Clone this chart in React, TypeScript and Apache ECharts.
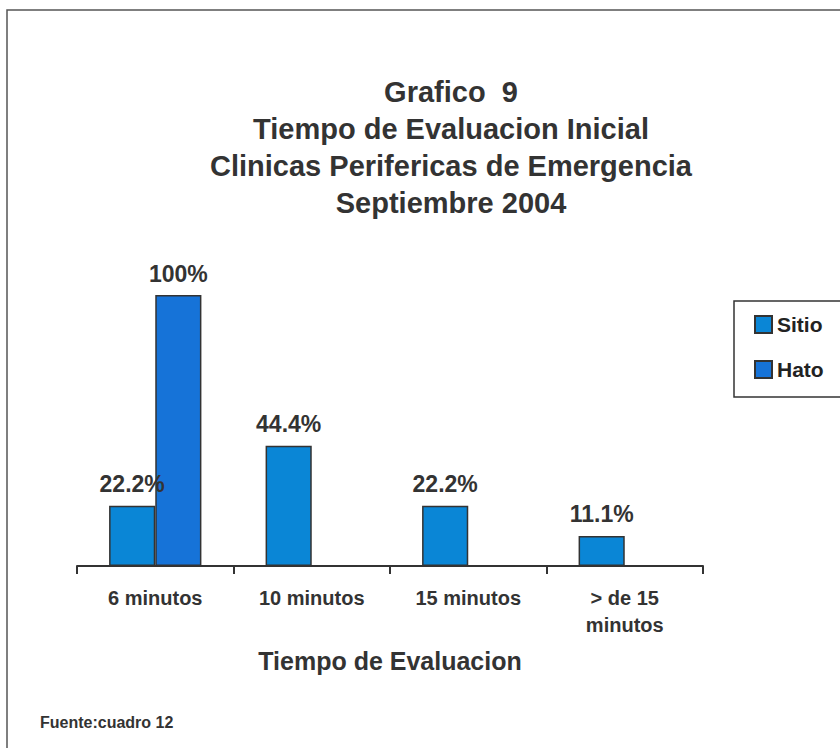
import React, { useEffect, useRef } from "react";
import * as echarts from "echarts";

const categories = ["6 minutos", "10 minutos", "15 minutos", "> de 15\nminutos"];
const sitioValues = [22.2, 44.4, 22.2, 11.1];
const hatoValues = [100, 0, 0, 0];
const seriesNames = ["Sitio", "Hato"];
const titleLines = [
  "Grafico  9",
  "Tiempo de Evaluacion Inicial",
  "Clinicas Perifericas de Emergencia",
  "Septiembre 2004",
];
const axisTitle = "Tiempo de Evaluacion";
const sourceNote = "Fuente:cuadro 12";

const FONT = "'Liberation Sans', Arial, Helvetica, sans-serif";
const TEXT = "#333333";

export default function App() {
  const ref = useRef<HTMLDivElement>(null);
  useEffect(() => {
    document.body.style.margin = "0";
    const chart = echarts.init(ref.current!, undefined, { renderer: "svg" });
    const label = {
      show: true,
      position: "top" as const,
      distance: 10,
      fontFamily: FONT,
      fontSize: 23,
      fontWeight: "bold" as const,
      color: TEXT,
      formatter: (p: any) => (p.value ? `${p.value}%` : ""),
    };
    chart.setOption({
      animation: false,
      backgroundColor: "#ffffff",
      textStyle: { fontFamily: FONT },
      grid: { left: 77, right: 137, top: 295, bottom: 182, containLabel: false },
      legend: {
        orient: "vertical",
        left: 754,
        top: 314,
        itemWidth: 17,
        itemHeight: 17,
        itemGap: 24,
        icon: "rect",
        padding: 0,
        textStyle: { fontFamily: FONT, fontSize: 21, fontWeight: "bold", color: "#222" },
        data: seriesNames,
      },
      xAxis: {
        type: "category",
        data: categories,
        axisLine: { show: true, lineStyle: { color: "#333", width: 2 } },
        axisTick: { show: true, length: 8, lineStyle: { color: "#333", width: 2 } },
        axisLabel: {
          margin: 18,
          fontFamily: FONT,
          fontSize: 20,
          fontWeight: "bold",
          color: TEXT,
          lineHeight: 27,
          interval: 0,
        },
        name: axisTitle,
        nameLocation: "middle",
        nameGap: 82,
        nameTextStyle: { fontFamily: FONT, fontSize: 25, fontWeight: "bold", color: TEXT },
      },
      yAxis: {
        type: "value",
        min: 0,
        max: 100,
        show: false,
        splitLine: { show: false },
      },
      series: [
        {
          name: seriesNames[0],
          type: "bar",
          data: sitioValues,
          barGap: "0%",
          barCategoryGap: "41%",
          itemStyle: { color: "#0a86d6", borderColor: "#333", borderWidth: 1.5 },
          label,
        },
        {
          name: seriesNames[1],
          type: "bar",
          data: hatoValues,
          itemStyle: { color: "#1673d8", borderColor: "#333", borderWidth: 1.5 },
          label,
        },
      ],
      graphic: [
        {
          type: "polyline",
          shape: { points: [[7, 748], [7, 10], [840, 10]] },
          style: { stroke: "#555", lineWidth: 1.5, fill: "none" },
          silent: true,
        },
        {
          type: "rect",
          shape: { x: 734, y: 301, width: 130, height: 96 },
          style: { stroke: "#333", lineWidth: 1.5, fill: "none" },
          silent: true,
          z: -1,
        },
        {
          type: "text",
          x: 451,
          y: 73,
          style: {
            text: titleLines.join("\n"),
            textAlign: "center",
            fontFamily: FONT,
            fontSize: 29,
            fontWeight: "bold",
            lineHeight: 37,
            fill: TEXT,
          },
        },
        {
          type: "text",
          x: 40,
          y: 722,
          style: {
            text: sourceNote,
            textVerticalAlign: "middle",
            fontFamily: FONT,
            fontSize: 16,
            fontWeight: "bold",
            fill: TEXT,
          },
        },
      ],
    });
    return () => chart.dispose();
  }, []);
  return <div ref={ref} style={{ width: 840, height: 748 }} />;
}
